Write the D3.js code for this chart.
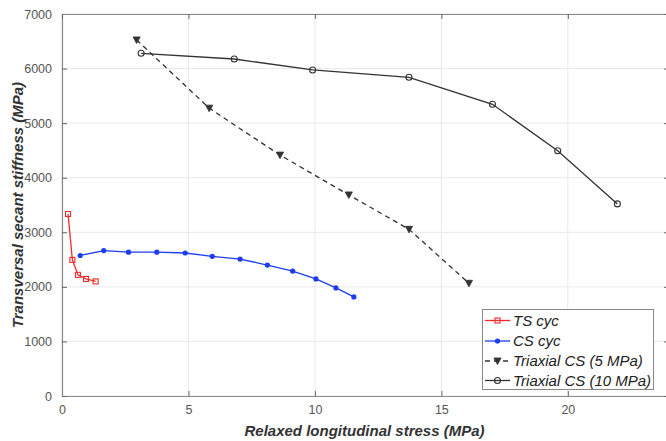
<!DOCTYPE html>
<html><head><meta charset="utf-8">
<script src="https://cdn.jsdelivr.net/npm/d3@7"></script>
<style>body{margin:0;background:#fff}svg{display:block;font-family:"Liberation Sans",Arial,sans-serif}</style>
</head><body><svg id="c" width="666" height="441"></svg>
<script>
const xTicks=[0,5,10,15,20];
const yTicks=[0,1000,2000,3000,4000,5000,6000,7000];
const tsX=[0.24,0.41,0.63,0.95,1.33];
const tsY=[3335,2495,2220,2145,2100];
const csX=[0.72,1.65,2.63,3.75,4.87,5.94,7.04,8.12,9.12,10.04,10.83,11.54];
const csY=[2575,2665,2635,2635,2620,2560,2510,2400,2290,2145,1980,1815];
const t5X=[2.95,5.82,8.62,11.34,13.72,16.09];
const t5Y=[6525,5275,4415,3685,3055,2065];
const t10X=[3.13,6.81,9.91,13.72,17.02,19.6,21.96];
const t10Y=[6280,6175,5975,5840,5345,4495,3520];
const legendLabels=["TS cyc","CS cyc","Triaxial CS (5 MPa)","Triaxial CS (10 MPa)"];

const svg=d3.select("#c");
const L=62,R=669,T=14,B=396;
const x=d3.scaleLinear().domain([0,24]).range([L,R]);
const y=d3.scaleLinear().domain([0,7000]).range([B,T]);

// grid
const g=svg.append("g");
g.selectAll(".vg").data(xTicks).join("line").attr("x1",d=>x(d)).attr("x2",d=>x(d)).attr("y1",T).attr("y2",B).attr("stroke","#e9e9e9");
g.selectAll(".hg").data(yTicks).join("line").attr("y1",d=>y(d)).attr("y2",d=>y(d)).attr("x1",L).attr("x2",R).attr("stroke","#e9e9e9");

// axes
const fmt=d3.format("d");
const ax=d3.axisBottom(x).tickValues(xTicks).tickFormat(fmt).tickSizeInner(-5).tickSizeOuter(0).tickPadding(9);
const ay=d3.axisLeft(y).tickValues(yTicks).tickFormat(fmt).tickSizeInner(-5).tickSizeOuter(0).tickPadding(10);
const gx=svg.append("g").attr("transform",`translate(0,${B})`).call(ax);
const gy=svg.append("g").attr("transform",`translate(${L},0)`).call(ay);
const gt=svg.append("g").attr("transform",`translate(0,${T})`).call(d3.axisTop(x).tickValues(xTicks).tickSizeInner(-5).tickSizeOuter(0).tickFormat(""));
const gr=svg.append("g").attr("transform",`translate(${R},0)`).call(d3.axisRight(y).tickValues(yTicks).tickSizeInner(-5).tickSizeOuter(0).tickFormat(""));
[gx,gy,gt,gr].forEach(a=>{a.select(".domain").attr("stroke","#8a8a8a").attr("stroke-width",1.2);a.selectAll(".tick line").attr("stroke","#666");a.selectAll("text").attr("fill","#555").attr("font-size",12.5).attr("font-family","Liberation Sans, Arial, sans-serif");});

// labels
svg.append("text").attr("x",(L+R)/2-1).attr("y",436).attr("text-anchor","middle").attr("font-weight","bold").attr("font-style","italic").attr("font-size",15).attr("fill","#333").text("Relaxed longitudinal stress (MPa)");
svg.append("text").attr("transform",`translate(23,${(T+B)/2}) rotate(-90)`).attr("text-anchor","middle").attr("font-weight","bold").attr("font-style","italic").attr("font-size",15).attr("fill","#333").text("Transversal secant stiffness (MPa)");

const line=d3.line().x(d=>x(d[0])).y(d=>y(d[1]));
const zip=(a,b)=>a.map((v,i)=>[v,b[i]]);
const series=[
 {pts:zip(tsX,tsY),color:"#f22a2a",dash:null,m:"square"},
 {pts:zip(csX,csY),color:"#1c3cf5",dash:null,m:"dot"},
 {pts:zip(t5X,t5Y),color:"#333",dash:"5,4",m:"tri"},
 {pts:zip(t10X,t10Y),color:"#333",dash:null,m:"circle"}
];
function marker(sel,m,color){
  if(m==="square") sel.append("rect").attr("x",-2.5).attr("y",-2.5).attr("width",5).attr("height",5).attr("fill","none").attr("stroke",color).attr("stroke-width",1.1);
  else if(m==="dot") sel.append("circle").attr("r",2.6).attr("fill",color);
  else if(m==="tri") sel.append("path").attr("d","M-3.6,-3 L3.6,-3 L0,3.6 Z").attr("fill",color).attr("stroke",color).attr("stroke-width",0.8);
  else sel.append("circle").attr("r",3).attr("fill","none").attr("stroke",color).attr("stroke-width",1.1);
}
series.forEach(s=>{
  svg.append("path").attr("d",line(s.pts)).attr("fill","none").attr("stroke",s.color).attr("stroke-width",1.3).attr("stroke-dasharray",s.dash);
  svg.append("g").selectAll("g").data(s.pts).join("g").attr("transform",d=>`translate(${x(d[0])},${y(d[1])})`).each(function(){marker(d3.select(this),s.m,s.color);});
});

// legend
const lg=svg.append("g");
lg.append("rect").attr("x",482.5).attr("y",309.5).attr("width",171).attr("height",80).attr("fill","#fff").attr("stroke","#888");
const rowsY=[320.5,341,361,380.5];
series.forEach((s,i)=>{
  const r=lg.append("g").attr("transform",`translate(0,${rowsY[i]})`);
  r.append("line").attr("x1",485).attr("x2",510).attr("stroke",s.color).attr("stroke-width",1.3).attr("stroke-dasharray",s.dash);
  marker(r.append("g").attr("transform","translate(497.5,0)"),s.m,s.color);
  r.append("text").attr("x",513).attr("y",5.3).attr("font-size",15).attr("font-style","italic").attr("fill","#222").text(legendLabels[i]);
});
</script></body></html>
